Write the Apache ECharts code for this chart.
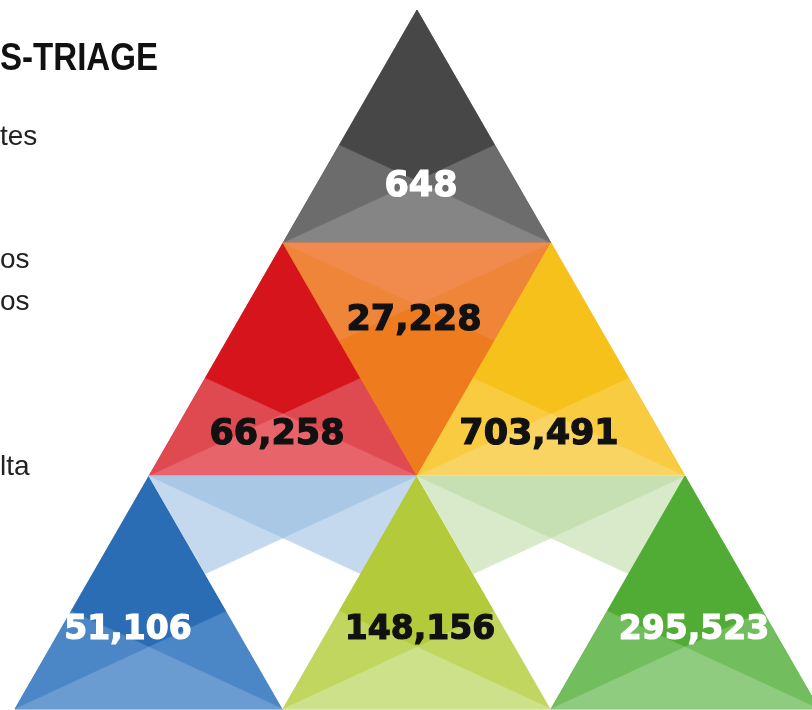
<!DOCTYPE html>
<html>
<head>
<meta charset="utf-8">
<script src="https://cdn.jsdelivr.net/npm/echarts@6/dist/echarts.min.js"></script>
<style>
  html, body { margin: 0; padding: 0; background: #ffffff; }
  #chart { width: 812px; height: 710px; }
</style>
</head>
<body>
<div id="chart"></div>
<script>
// ---- data ----
const cellRow   = [0, 1, 1, 1, 2, 2, 2, 2, 2];
const cellCol   = [0, 0, 1, 2, 0, 1, 2, 3, 4];
const cellValue = [648, 66258, 27228, 703491, 51106, null, 148156, null, 295523];

// side-text fragments (visible parts of the cropped legend)
const headingText = 'S-TRIAGE';
const sideTexts = ['tes', 'os', 'os', 'lta'];

// ---- styles ----
const vertexColor = ['#474747', '#d5141b', '#ee7b1d', '#f7c11b', '#2b6db5', '#ffffff', '#b3cb3a', '#ffffff', '#51ac35'];
const sideColor   = ['#6c6c6c', '#df4a51', '#ef8538', '#f8cb40', '#4b87c6', '#c4d9ee', '#c1d65f', '#d8eac9', '#72bd5d'];
const baseColor   = ['#858585', '#e7646b', '#f18b4d', '#f9d462', '#6a9bd1', '#a8c8e6', '#cde08a', '#c6e0b3', '#90cc7f'];
const labelColor  = ['#ffffff', '#111111', '#111111', '#111111', '#ffffff', '#111111', '#111111', '#111111', '#ffffff'];

// layout helpers (not data)
const unitPx = 134, originPx = 15, chartW = 812;
const labelFracUp = [0.747, 0.81, 0.648];
const labelFracDown = 0.32;
const labelDy = 3;
const labelShift = [4, -6, -3, -12, -21, 0, 3, 0, 9];
const labelSize = [35, 35, 35, 35, 33, 33, 33, 33, 33];
const sideFrac = 0.58;

const seriesData = cellRow.map((r, i) => [r, cellCol[i], cellValue[i], i]);

function lerp(a, b, t) { return [a[0] + (b[0] - a[0]) * t, a[1] + (b[1] - a[1]) * t]; }
function intersect(p1, p2, p3, p4) {
  const d = (p1[0] - p2[0]) * (p3[1] - p4[1]) - (p1[1] - p2[1]) * (p3[0] - p4[0]);
  const a = p1[0] * p2[1] - p1[1] * p2[0];
  const b = p3[0] * p4[1] - p3[1] * p4[0];
  return [(a * (p3[0] - p4[0]) - (p1[0] - p2[0]) * b) / d,
          (a * (p3[1] - p4[1]) - (p1[1] - p2[1]) * b) / d];
}

function renderItem(params, api) {
  const row = api.value(0), col = api.value(1), idx = api.value(3);
  const val = cellValue[idx];
  const xc = 3 - row + col;
  const up = col % 2 === 0;
  let V, L, R;
  if (up) {
    V = api.coord([xc, row]);
    L = api.coord([xc - 1, row + 1]);
    R = api.coord([xc + 1, row + 1]);
  } else {
    V = api.coord([xc, row + 1]);
    L = api.coord([xc - 1, row]);
    R = api.coord([xc + 1, row]);
  }
  const PL = lerp(V, L, sideFrac), PR = lerp(V, R, sideFrac);
  const X = intersect(L, PR, R, PL);
  const poly = (pts, c) => ({ type: 'polygon', shape: { points: pts }, style: { fill: c, stroke: c, lineWidth: 0.6 } });
  const children = [
    poly([L, R, V], vertexColor[idx]),
    poly([V, PL, X, PR], vertexColor[idx]),
    poly([L, PL, X], sideColor[idx]),
    poly([R, PR, X], sideColor[idx]),
    poly([L, X, R], baseColor[idx])
  ];
  if (val != null) {
    const top = api.coord([xc, row]), bot = api.coord([xc, row + 1]);
    const frac = up ? labelFracUp[row] : labelFracDown;
    children.push({
      type: 'text',
      style: {
        text: val.toLocaleString('en-US'),
        x: top[0] + labelShift[idx],
        y: top[1] + (bot[1] - top[1]) * frac + labelDy,
        align: 'center',
        verticalAlign: 'middle',
        fill: labelColor[idx],
        stroke: labelColor[idx],
        lineWidth: 1.2,
        font: 'bold ' + labelSize[idx] + 'px "DejaVu Sans"'
      }
    });
  }
  return { type: 'group', children };
}

const bodyFont = '28px "Liberation Sans", sans-serif';
const chart = echarts.init(document.getElementById('chart'), null, { renderer: 'canvas' });
chart.setOption({
  backgroundColor: '#ffffff',
  animation: false,
  grid: { left: 0, top: 10, right: 0, bottom: 1 },
  xAxis: { type: 'value', min: -originPx / unitPx, max: (chartW - originPx) / unitPx, show: false },
  yAxis: { type: 'value', min: 0, max: 3, inverse: true, show: false },
  graphic: [
    { type: 'text', x: 0, y: 41, scaleX: 0.87, style: { text: headingText, fill: '#111111', font: 'bold 38px "Liberation Sans", sans-serif' } },
    { type: 'text', x: 0, y: 123, style: { text: sideTexts[0], fill: '#222222', font: bodyFont } },
    { type: 'text', x: 0, y: 246, style: { text: sideTexts[1], fill: '#222222', font: bodyFont } },
    { type: 'text', x: 0, y: 288, style: { text: sideTexts[2], fill: '#222222', font: bodyFont } },
    { type: 'text', x: 0, y: 453, style: { text: sideTexts[3], fill: '#222222', font: bodyFont } }
  ],
  series: [{
    type: 'custom',
    coordinateSystem: 'cartesian2d',
    renderItem: renderItem,
    data: seriesData,
    encode: { x: 1, y: 0 },
    clip: false,
    silent: true
  }]
});
</script>
</body>
</html>
